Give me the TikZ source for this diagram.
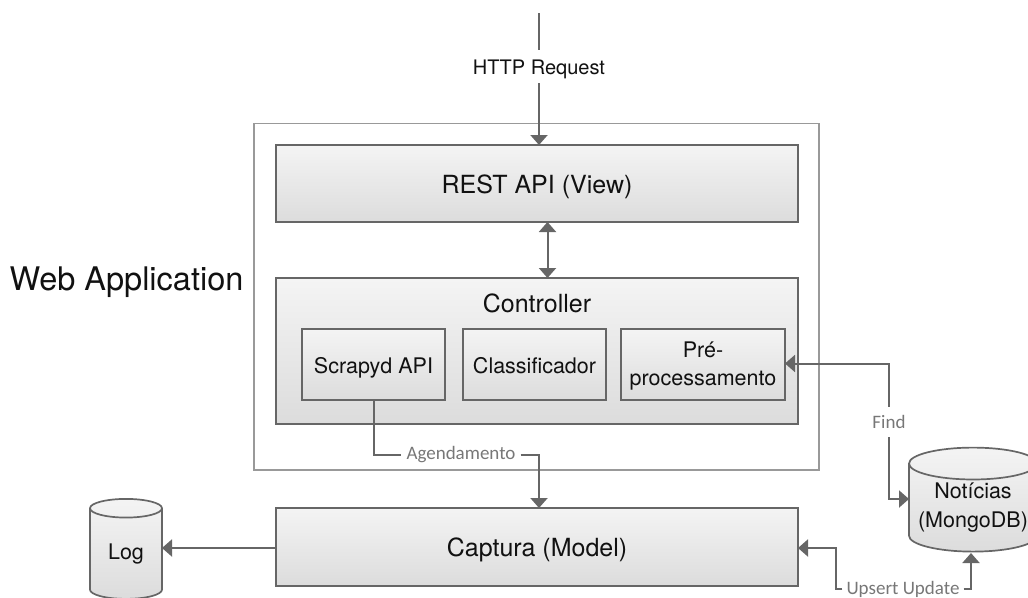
\documentclass[tikz,border=0pt]{standalone}
\usepackage{fontspec}
\setmainfont{TeX Gyre Heros}
\newfontfamily\lblfont{Carlito}
\usetikzlibrary{arrows.meta,shapes.geometric,calc}
\definecolor{linegray}{HTML}{666666}
\definecolor{framegray}{HTML}{999999}
\definecolor{lblgray}{HTML}{777777}
\definecolor{fillhi}{HTML}{F4F4F4}
\definecolor{filllo}{HTML}{DCDCDC}
\definecolor{textblack}{HTML}{111111}
\tikzset{
  boxgrad/.style={draw=linegray,line width=1.7pt,top color=fillhi,bottom color=filllo,rectangle,inner sep=0pt,text=textblack},
  bigbox/.style={boxgrad,minimum width=522pt,font=\fontsize{25}{30}\selectfont,text height=19pt,text depth=0pt},
  smallbox/.style={boxgrad,minimum height=71pt,font=\fontsize{21.5}{28}\selectfont,align=center},
  dbshape/.style={cylinder,shape border rotate=90,draw=linegray,line width=1.7pt,top color=fillhi,bottom color=filllo,inner sep=0pt,text=textblack,align=center,font=\fontsize{21.5}{29}\selectfont},
  conn/.style={draw=linegray,line width=2pt},
  arr/.style={conn,-{Triangle[width=17pt,length=10pt]}},
  dblarr/.style={conn,{Triangle[width=17pt,length=10pt]}-{Triangle[width=17pt,length=10pt]}},
  lbl/.style={inner sep=0pt,text=lblgray,font=\lblfont\fontsize{19}{22}\selectfont},
}
\begin{document}
\begin{tikzpicture}[x=1pt,y=-1pt]
\useasboundingbox (0,0) rectangle (1028,597);
\node[draw=framegray,line width=1.7pt,rectangle,minimum width=565pt,minimum height=346.5pt,inner sep=0pt] (webapp) at (536.5,296.75) {};
\node[bigbox,minimum height=77pt] (rest) at (537,183.5) {REST API (View)};
\node[boxgrad,minimum width=522pt,minimum height=146pt] (ctrl) at (537,351) {};
\node[text=textblack,inner sep=0pt,font=\fontsize{25}{30}\selectfont] (ctrllbl) at (537,303) {Controller};
\node[smallbox,minimum width=143pt,text height=17pt,text depth=0pt] (scrapyd) at (373.5,364.5) {Scrapyd API};
\node[smallbox,minimum width=143pt,text height=17pt,text depth=0pt] (classif) at (534.5,364.5) {Classificador};
\node[smallbox,minimum width=164pt] (pre) at (703,364.5) {\rule{0pt}{19pt}Pré-\\processamento};
\node[bigbox,minimum height=78pt] (captura) at (537,547) {Captura (Model)};
\node[dbshape,minimum width=72pt,minimum height=100pt,aspect=0.52] (log) at (126,554) {Log};
\node[dbshape,minimum width=128pt,minimum height=104pt,aspect=0.29] (noticias) at (973,508) {Notícias\\(MongoDB)};
\node[inner sep=0pt,text=textblack,font=\fontsize{32.5}{38}\selectfont] (webtitle) at (126.5,282) {Web Application};
% labels
\node[inner sep=0pt,minimum height=33pt,text=textblack,font=\fontsize{20}{24}\selectfont,text height=15pt,text depth=0pt] (lhttp) at (539,66.5) {HTTP Request};
\node[lbl,minimum height=30pt] (lfind) at (889,422) {Find};
\node[lbl,inner xsep=5pt] (lagenda) at (461,455) {Agendamento};
\node[lbl,inner xsep=4pt] (lupsert) at (903,589) {Upsert Update};
% connector ends
\coordinate (topend) at (539,13);
\coordinate (restin) at (539,145);
\coordinate (restout) at (547.5,222);
\coordinate (ctrlin) at (547.5,278);
\coordinate (capin) at (539,508);
\coordinate (capleft) at (276,548);
\coordinate (login) at (162,548);
\coordinate (prein) at (785,363.5);
\coordinate (findbend) at (889,363.5);
\coordinate (dbin) at (909,499);
\coordinate (capright) at (798,548);
\coordinate (dbout) at (971,553);
% connectors
\draw[conn] (topend) -- (lhttp);
\draw[arr] (lhttp) -- (restin);
\draw[dblarr] (restout) -- (ctrlin);
\draw[conn] (scrapyd.south) |- (lagenda.west);
\draw[arr] (lagenda.east) -| (capin);
\draw[arr] (capleft) -- (login);
\draw[arr] (lfind) -- (findbend) -- (prein);
\draw[arr] (lfind) |- (dbin);
\draw[arr] (lupsert.west) -| ($(capright)+(38,0)$) -- (capright);
\draw[arr] (lupsert.east) -| (dbout);
\end{tikzpicture}
\end{document}
